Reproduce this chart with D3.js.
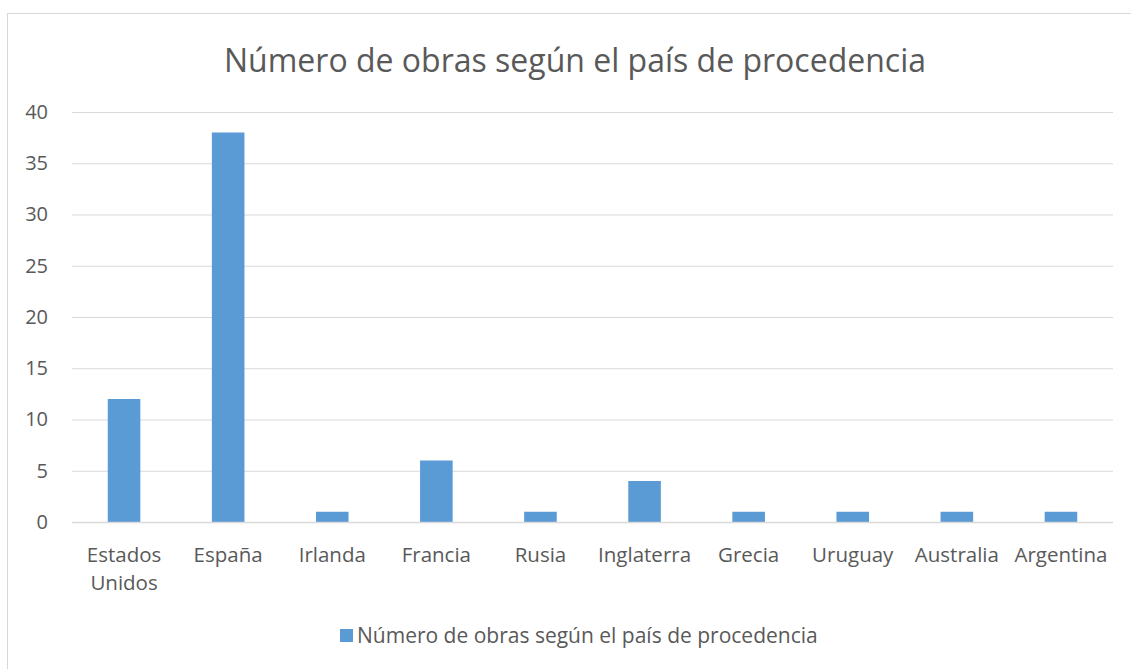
<!DOCTYPE html>
<html><head><meta charset="utf-8">
<script src="https://cdn.jsdelivr.net/npm/d3@7"></script>
<style>body{margin:0;background:#fff;} text{font-family:"Open Sans",sans-serif;fill:#595959;}</style>
</head><body>
<svg id="c" width="1131" height="669"></svg>
<script>
const categories = [["Estados","Unidos"],["España"],["Irlanda"],["Francia"],["Rusia"],["Inglaterra"],["Grecia"],["Uruguay"],["Australia"],["Argentina"]];
const values = [12,38,1,6,1,4,1,1,1,1];
const yTicks = [0,5,10,15,20,25,30,35,40];
const title = "Número de obras según el país de procedencia";
const seriesName = "Número de obras según el país de procedencia";

(function(){
const svg = d3.select("#c");
svg.append("rect").attr("x",7.5).attr("y",13.5).attr("width",1140).attr("height",680)
  .attr("fill","#fff").attr("stroke","#d9d9d9").attr("stroke-width",1);

const pl=72, pr=1113, pt=112, pb=522;
const x = d3.scaleBand().domain(d3.range(categories.length)).range([pl,pr]).paddingInner(0.687).paddingOuter(0.3435);
const y = d3.scaleLinear().domain([0,40]).range([pb,pt]);

const yAxis = svg.append("g").attr("transform",`translate(${pl},0)`)
  .call(d3.axisLeft(y).tickValues(yTicks).tickSize(-(pr-pl)).tickPadding(24));
yAxis.select(".domain").remove();
yAxis.selectAll("line").attr("stroke","#d9d9d9").attr("stroke-width",1);
yAxis.selectAll("text").style("font-size","20px").style("font-family","'Open Sans',sans-serif").attr("fill","#595959");

svg.selectAll("rect.bar").data(values).join("rect").attr("class","bar")
  .attr("x",(d,i)=>x(i)).attr("width",x.bandwidth())
  .attr("y",d=>y(d)).attr("height",d=>y(0)-y(d)).attr("fill","#5b9bd5");

svg.append("line").attr("x1",pl).attr("x2",pr).attr("y1",y(0)+0.5).attr("y2",y(0)+0.5)
  .attr("stroke","#d9d9d9").attr("stroke-width",1.5);

const xc = d3.scaleBand().domain(d3.range(categories.length)).range([pl,pr]);
const lab = svg.append("g");
categories.forEach((lines,i)=>{
  const cx = xc(i)+xc.bandwidth()/2;
  const t = lab.append("text").attr("text-anchor","middle").attr("x",cx).attr("y",562).style("font-size","20.5px");
  lines.forEach((l,j)=>t.append("tspan").attr("x",cx).attr("dy",j?28:0).text(l));
});

svg.append("text").attr("x",575).attr("y",72).attr("text-anchor","middle").style("font-size","32px").text(title);

svg.append("rect").attr("x",340).attr("y",629).attr("width",13).attr("height",13).attr("fill","#5b9bd5");
svg.append("text").attr("x",357).attr("y",643).style("font-size","21px").text(seriesName);
})();
</script>
</body></html>
